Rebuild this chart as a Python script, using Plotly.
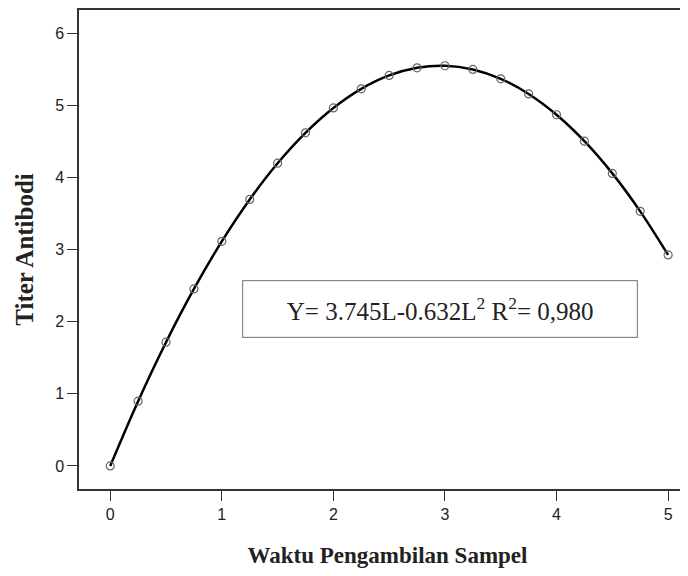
import plotly.graph_objects as go

waktu = [0, 0.25, 0.5, 0.75, 1, 1.25, 1.5, 1.75, 2, 2.25, 2.5, 2.75, 3,
         3.25, 3.5, 3.75, 4, 4.25, 4.5, 4.75, 5]
titer = [0.0, 0.897, 1.715, 2.453, 3.113, 3.694, 4.196, 4.618, 4.962, 5.227,
         5.413, 5.519, 5.547, 5.496, 5.366, 5.156, 4.868, 4.501, 4.055, 3.529, 2.925]
x_ticks = [0, 1, 2, 3, 4, 5]
y_ticks = [0, 1, 2, 3, 4, 5, 6]
equation = "Y= 3.745L-0.632L<sup>2</sup> R<sup>2</sup>= 0,980"

fig = go.Figure()
fig.add_trace(go.Scatter(
    x=waktu, y=titer, mode="lines+markers",
    line=dict(color="black", width=2.5, shape="spline"),
    marker=dict(symbol="circle-open", size=8, color="#666666", line=dict(width=1.2)),
    showlegend=False,
))

fig.add_annotation(
    x=2.957, y=2.17, xref="x", yref="y", text=equation, showarrow=False,
    font=dict(family="Liberation Serif", size=25, color="#222222"),
    bordercolor="#888888", borderwidth=1.2, bgcolor="white",
    width=392, height=54,
)

axis_font = dict(family="Liberation Sans", size=16, color="#222222")
fig.update_layout(
    width=688, height=576,
    margin=dict(l=71, r=0, t=2, b=95),
    plot_bgcolor="white", paper_bgcolor="white",
    xaxis=dict(
        range=[-0.28, 5.25], tickvals=x_ticks, showgrid=False, zeroline=False,
        automargin=False,
        showline=True, linecolor="#333333", linewidth=1.5, mirror=True,
        ticks="outside", ticklen=10, tickcolor="#333333", tickfont=axis_font,
        title=dict(text="Waktu Pengambilan Sampel", standoff=25,
                   font=dict(family="Liberation Serif", size=23, color="#222222", weight="bold")),
    ),
    yaxis=dict(
        range=[-0.32, 6.32], tickvals=y_ticks, showgrid=False, zeroline=False,
        automargin=False,
        showline=True, linecolor="#333333", linewidth=1.5,
        ticks="outside", ticklen=10, tickcolor="#333333", tickfont=axis_font,
        title=dict(text="Titer Antibodi", standoff=14,
                   font=dict(family="Liberation Serif", size=25, color="#222222", weight="bold")),
    ),
)

fig.write_html("out.html")
